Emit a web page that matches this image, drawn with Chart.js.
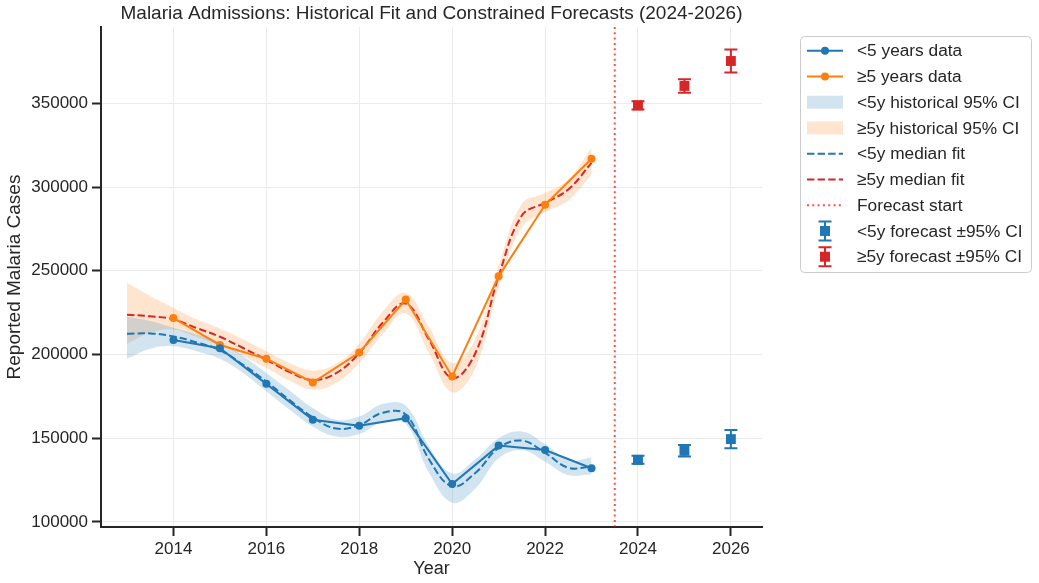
<!DOCTYPE html>
<html>
<head>
<meta charset="utf-8">
<script src="https://cdn.jsdelivr.net/npm/chart.js@4/dist/chart.umd.min.js"></script>
<style>
    html, body { margin: 0; padding: 0; background: #fff; }
    #wrap { width: 1039px; height: 583px; position: relative; }
</style>
</head>
<body>
<div id="wrap"><canvas id="chart"></canvas></div>
<script>
// observed yearly admissions
const years = [2014, 2015, 2016, 2017, 2018, 2019, 2020, 2021, 2022, 2023];
const under5 = [208700, 203800, 182500, 161000, 157400, 162000, 122700, 145600, 143000, 132100];
const over5 = [221800, 205700, 197500, 183300, 201200, 232800, 186900, 246700, 289400, 316900];

// median fit and 95% band, read every half year
const fitYears = [2013, 2013.5, 2014, 2014.5, 2015, 2015.5, 2016, 2016.5, 2017, 2017.5, 2018,
    2018.5, 2019, 2019.5, 2020, 2020.5, 2021, 2021.5, 2022, 2022.5, 2023];
const under5Fit = [212400, 212600, 210800, 207200, 202600, 193900, 183800, 172800, 162500, 155800, 157800,
    165200, 164200, 137500, 121300, 129300, 144200, 148600, 141300, 132400, 133100];
const under5Lo = [197500, 203500, 205000, 202000, 197500, 189000, 178000, 167000, 157000, 151000, 152500,
    159500, 158500, 129500, 111500, 120000, 138000, 143000, 136000, 128000, 128500];
const under5Hi = [222500, 220000, 216000, 212000, 207500, 199000, 189000, 178500, 168000, 161000, 163000,
    170500, 169500, 145000, 129000, 137500, 150000, 154000, 146500, 137000, 138500];
const over5Fit = [223800, 222800, 221000, 215800, 210600, 203900, 196900, 189500, 184800, 188900, 200900,
    218800, 230400, 208900, 186000, 200900, 246700, 283000, 290600, 298600, 314500];
const over5Lo = [206500, 213000, 215000, 210500, 205500, 199000, 192000, 184500, 179000, 183000, 195000,
    212000, 224500, 201000, 177500, 192000, 240000, 276000, 285000, 292000, 307500];
const over5Hi = [242700, 235000, 228000, 221000, 215500, 209000, 202000, 195000, 190500, 194500, 206500,
    225500, 236800, 216500, 195000, 209500, 253000, 290000, 296500, 304500, 323500];

// constrained forecasts with 95% half-widths
const forecastYears = [2024, 2025, 2026];
const under5Fc = [137100, 142500, 149500];
const under5FcErr = [2400, 3400, 5500];
const over5Fc = [348800, 360400, 375300];
const over5FcErr = [2400, 4000, 6800];
const forecastStart = 2023.5;

const xTicks = [2014, 2016, 2018, 2020, 2022, 2024, 2026];
const yTicks = [100000, 150000, 200000, 250000, 300000, 350000];

const BLUE = '#1f77b4', ORANGE = '#ff7f0e', RED = '#d62728';
const BLUE_FILL = 'rgba(31,119,180,0.2)', ORANGE_FILL = 'rgba(255,127,14,0.2)';
const FC_LINE = 'rgba(255,0,0,0.7)';
const INK = '#262626';
const FONT = '"Liberation Sans", Arial, sans-serif';

const pts = (xs, ys) => xs.map((x, i) => ({x: x, y: ys[i]}));

const extras = {
    id: 'extras',
    beforeDatasetsDraw(chart) {
        const {ctx, chartArea, scales} = chart;
        const x = scales.x.getPixelForValue(forecastStart);
        ctx.save();
        ctx.strokeStyle = FC_LINE;
        ctx.lineWidth = 2;
        ctx.setLineDash([2, 3.3]);
        ctx.beginPath();
        ctx.moveTo(x, chartArea.top);
        ctx.lineTo(x, chartArea.bottom);
        ctx.stroke();
        ctx.restore();
    },
    afterDatasetsDraw(chart) {
        const {ctx, scales} = chart;
        const drawErr = (vals, errs, color) => {
            ctx.save();
            ctx.strokeStyle = color;
            ctx.lineWidth = 2;
            forecastYears.forEach((yr, i) => {
                const px = scales.x.getPixelForValue(yr);
                const lo = scales.y.getPixelForValue(vals[i] - errs[i]);
                const hi = scales.y.getPixelForValue(vals[i] + errs[i]);
                ctx.beginPath();
                ctx.moveTo(px, lo); ctx.lineTo(px, hi);
                ctx.moveTo(px - 6.5, lo); ctx.lineTo(px + 6.5, lo);
                ctx.moveTo(px - 6.5, hi); ctx.lineTo(px + 6.5, hi);
                ctx.stroke();
            });
            ctx.restore();
        };
        drawErr(under5Fc, under5FcErr, BLUE);
        drawErr(over5Fc, over5FcErr, RED);
    },
    afterDraw(chart) {
        const {ctx, chartArea} = chart;
        ctx.save();
        // title
        ctx.fillStyle = INK;
        ctx.font = '19px ' + FONT;
        ctx.textAlign = 'center';
        ctx.textBaseline = 'middle';
        ctx.fillText('Malaria Admissions: Historical Fit and Constrained Forecasts (2024-2026)',
            (chartArea.left + chartArea.right) / 2, 14);

        // legend
        const bx = 800.5, by = 36.5, bw = 231, bh = 236;
        ctx.fillStyle = 'rgba(255,255,255,0.8)';
        ctx.strokeStyle = '#cccccc';
        ctx.lineWidth = 1;
        ctx.beginPath();
        ctx.roundRect(bx, by, bw, bh, 4);
        ctx.fill();
        ctx.stroke();

        const h0 = 807, h1 = 843, hc = 825;
        const items = [
            {label: '<5 years data', kind: 'marker', color: BLUE},
            {label: '≥5 years data', kind: 'marker', color: ORANGE},
            {label: '<5y historical 95% CI', kind: 'patch', color: BLUE_FILL},
            {label: '≥5y historical 95% CI', kind: 'patch', color: ORANGE_FILL},
            {label: '<5y median fit', kind: 'dash', color: BLUE},
            {label: '≥5y median fit', kind: 'dash', color: RED},
            {label: 'Forecast start', kind: 'dot', color: FC_LINE},
            {label: '<5y forecast ±95% CI', kind: 'err', color: BLUE},
            {label: '≥5y forecast ±95% CI', kind: 'err', color: RED}
        ];
        items.forEach((it, i) => {
            const y = 50.7 + i * 25.75;
            ctx.strokeStyle = it.color;
            ctx.fillStyle = it.color;
            ctx.lineWidth = 2;
            ctx.setLineDash([]);
            if (it.kind === 'marker') {
                ctx.beginPath(); ctx.moveTo(h0, y); ctx.lineTo(h1, y); ctx.stroke();
                ctx.beginPath(); ctx.arc(hc, y, 4, 0, Math.PI * 2); ctx.fill();
            } else if (it.kind === 'patch') {
                ctx.fillRect(h0, y - 6.5, h1 - h0, 13);
            } else if (it.kind === 'dash' || it.kind === 'dot') {
                ctx.setLineDash(it.kind === 'dash' ? [7.4, 3.2] : [2, 3.3]);
                ctx.beginPath(); ctx.moveTo(h0, y); ctx.lineTo(h1, y); ctx.stroke();
            } else {
                ctx.beginPath();
                ctx.moveTo(hc, y - 9.5); ctx.lineTo(hc, y + 9.5);
                ctx.moveTo(hc - 6.5, y - 9.5); ctx.lineTo(hc + 6.5, y - 9.5);
                ctx.moveTo(hc - 6.5, y + 9.5); ctx.lineTo(hc + 6.5, y + 9.5);
                ctx.stroke();
                ctx.fillRect(hc - 5, y - 5, 10, 10);
            }
            ctx.setLineDash([]);
            ctx.fillStyle = INK;
            ctx.font = '17.3px ' + FONT;
            ctx.textAlign = 'left';
            ctx.textBaseline = 'middle';
            ctx.fillText(it.label, 857, y + 1);
        });
        ctx.restore();
    }
};

const band = (ys, color) => ({
    data: pts(fitYears, ys), borderWidth: 0, pointRadius: 0, backgroundColor: color,
    tension: 0.4, order: 4
});

new Chart(document.getElementById('chart'), {
    type: 'line',
    data: {
        datasets: [
            // 0,1: <5 band (upper fills down to lower)
            Object.assign(band(under5Hi, BLUE_FILL), {fill: '+1'}),
            Object.assign(band(under5Lo, BLUE_FILL), {fill: false}),
            // 2,3: >=5 band
            Object.assign(band(over5Hi, ORANGE_FILL), {fill: '+1'}),
            Object.assign(band(over5Lo, ORANGE_FILL), {fill: false}),
            {
                data: pts(fitYears, under5Fit), borderColor: BLUE, borderWidth: 2, borderDash: [7.4, 3.2],
                pointRadius: 0, tension: 0.4, fill: false, order: 3
            },
            {
                data: pts(fitYears, over5Fit), borderColor: RED, borderWidth: 2, borderDash: [7.4, 3.2],
                pointRadius: 0, tension: 0.4, fill: false, order: 3
            },
            {
                data: pts(years, under5), borderColor: BLUE, backgroundColor: BLUE, borderWidth: 2,
                pointRadius: 4, pointBorderWidth: 0, tension: 0, fill: false, order: 2
            },
            {
                data: pts(years, over5), borderColor: ORANGE, backgroundColor: ORANGE, borderWidth: 2,
                pointRadius: 4, pointBorderWidth: 0, tension: 0, fill: false, order: 2
            },
            {
                data: pts(forecastYears, under5Fc), showLine: false, pointStyle: 'rect', pointRadius: 7,
                pointBorderWidth: 0, backgroundColor: BLUE, order: 1
            },
            {
                data: pts(forecastYears, over5Fc), showLine: false, pointStyle: 'rect', pointRadius: 7,
                pointBorderWidth: 0, backgroundColor: RED, order: 1
            }
        ]
    },
    options: {
        responsive: true,
        maintainAspectRatio: false,
        animation: false,
        layout: {padding: {top: 27, right: 277, left: 0, bottom: 0}},
        plugins: {
            legend: {display: false},
            tooltip: {enabled: false},
            title: {display: false}
        },
        scales: {
            x: {
                type: 'linear',
                min: 2012.44,
                max: 2026.67,
                afterFit(scale) { scale.height = 56; },
                afterBuildTicks(scale) { scale.ticks = xTicks.map(v => ({value: v})); },
                grid: {color: '#ebebeb', lineWidth: 1, tickColor: INK, tickLength: 9, tickWidth: 2},
                border: {color: INK, width: 2},
                ticks: {color: INK, font: {family: FONT, size: 17}, padding: 3, callback: v => String(v)},
                title: {display: true, text: 'Year', color: INK, font: {family: FONT, size: 18}, padding: {top: 0, bottom: 3}}
            },
            y: {
                type: 'linear',
                min: 97000,
                max: 395600,
                afterFit(scale) { scale.width = 101; },
                afterBuildTicks(scale) { scale.ticks = yTicks.map(v => ({value: v})); },
                grid: {color: '#ebebeb', lineWidth: 1, tickColor: INK, tickLength: 9, tickWidth: 2},
                border: {color: INK, width: 2},
                ticks: {color: INK, font: {family: FONT, size: 17}, padding: 4, callback: v => String(v)},
                title: {display: true, text: 'Reported Malaria Cases', color: INK, font: {family: FONT, size: 19}, padding: {top: 3, bottom: 0}}
            }
        }
    },
    plugins: [extras]
});
</script>
</body>
</html>
